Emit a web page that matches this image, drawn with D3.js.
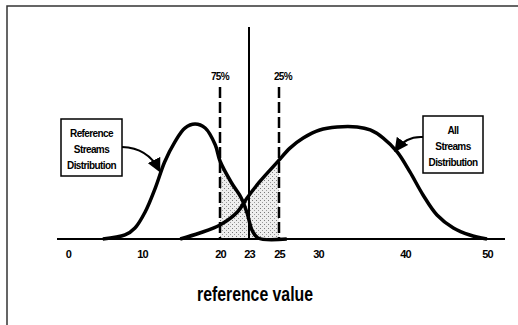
<!DOCTYPE html>
<html>
<head>
<meta charset="utf-8">
<script src="https://cdn.jsdelivr.net/npm/d3@7"></script>
<style>
  body { margin: 0; background: #fff; }
  svg { display: block; }
</style>
</head>
<body>
<div id="chart"></div>
<script>
// tick labels on the x axis
var tickValues = [0, 10, 20, 23, 25, 30, 40, 50];

// reference streams distribution (x = reference value, y = relative density)
var refX = [4.7, 7.7, 9.05, 10.4, 11.7, 12.9, 14.2, 15.5, 16.8, 18.1, 19.4, 20.0, 21.2, 22.2, 22.8, 23.2, 23.6, 26.0];
var refY = [0, 0.035, 0.096, 0.235, 0.443, 0.67, 0.843, 0.965, 1.0, 0.965, 0.817, 0.678, 0.487, 0.357, 0.226, 0.078, 0.009, 0];

// all streams distribution
var allX = [14.9, 17.4, 20.0, 21.8, 22.8, 23.7, 24.9, 26.4, 28.1, 30.2, 32.2, 34.5, 36.0, 37.5, 39.1, 40.6, 42.2, 43.9, 45.9, 47.9, 50.0];
var allY = [0, 0.052, 0.122, 0.235, 0.357, 0.496, 0.67, 0.79, 0.878, 0.948, 0.974, 0.974, 0.948, 0.878, 0.757, 0.583, 0.383, 0.209, 0.096, 0.035, 0];

// percentile cut-offs and the chosen reference value
var cutValues = [20, 25];
var cutLabels = ["75%", "25%"];
var referenceValue = 23;

var refLabel = ["Reference", "Streams", "Distribution"];
var allLabel = ["All", "Streams", "Distribution"];
var axisTitle = "reference value";

var W = 518, H = 325;
var baseY = 239;
var narrow = "'Liberation Sans Narrow', 'Arial Narrow', 'Liberation Sans', Arial, sans-serif";

var svg = d3.select("#chart").append("svg")
  .attr("width", W).attr("height", H);

var defs = svg.append("defs");
var pat = defs.append("pattern")
  .attr("id", "dots").attr("width", 4).attr("height", 4)
  .attr("patternUnits", "userSpaceOnUse");
pat.append("rect").attr("width", 4).attr("height", 4).attr("fill", "#eeeeee");
pat.append("rect").attr("x", 0).attr("y", 0).attr("width", 1).attr("height", 1).attr("fill", "#7a7a7a");
pat.append("rect").attr("x", 2).attr("y", 2).attr("width", 1).attr("height", 1).attr("fill", "#999");

defs.append("marker")
  .attr("id", "arrow").attr("viewBox", "0 0 10 10")
  .attr("refX", 8).attr("refY", 5)
  .attr("markerWidth", 7).attr("markerHeight", 7)
  .attr("orient", "auto")
  .append("path").attr("d", "M0,0 L10,5 L0,10 z").attr("fill", "#000");

// frame
svg.append("rect")
  .attr("x", 7).attr("y", 6).attr("width", W).attr("height", H)
  .attr("fill", "none").attr("stroke", "#333").attr("stroke-width", 1.5);

// scales (the hand-drawn axis is not evenly spaced)
var x = d3.scaleLinear()
  .domain(tickValues)
  .range([68, 142, 220, 249, 279, 318, 405, 487]);
var y = d3.scaleLinear().domain([0, 1]).range([baseY, 124]);

var refData = refX.map(function(d, i) { return [d, refY[i]]; });
var allData = allX.map(function(d, i) { return [d, allY[i]]; });

var line = d3.line()
  .x(function(d) { return x(d[0]); })
  .y(function(d) { return y(d[1]); })
  .curve(d3.curveCatmullRom.alpha(0.5));
var area = d3.area()
  .x(function(d) { return x(d[0]); })
  .y0(baseY)
  .y1(function(d) { return y(d[1]); })
  .curve(d3.curveCatmullRom.alpha(0.5));

// shaded overlap between the two percentile cut-offs
defs.append("clipPath").attr("id", "band")
  .append("rect")
  .attr("x", x(cutValues[0])).attr("y", 0)
  .attr("width", x(cutValues[1]) - x(cutValues[0])).attr("height", baseY);

var shade = svg.append("g").attr("clip-path", "url(#band)");
shade.append("path").attr("d", area(refData)).attr("fill", "url(#dots)");
shade.append("path").attr("d", area(allData)).attr("fill", "url(#dots)");

// dashed percentile lines
svg.selectAll(".cut")
  .data(cutValues)
  .enter().append("line")
    .attr("class", "cut")
    .attr("x1", function(d) { return x(d); })
    .attr("x2", function(d) { return x(d); })
    .attr("y1", 87).attr("y2", baseY)
    .attr("stroke", "#000").attr("stroke-width", 2.5)
    .attr("stroke-dasharray", "11,4");

svg.selectAll(".cutLabel")
  .data(cutValues)
  .enter().append("text")
    .attr("x", function(d, i) { return x(d) + (i == 1 ? 4 : 0); })
    .attr("y", 80)
    .attr("text-anchor", "middle")
    .style("font-family", narrow)
    .style("font-weight", "bold")
    .style("font-size", "10px")
    .style("letter-spacing", "-0.6px")
    .text(function(d, i) { return cutLabels[i]; });

// curves
svg.append("path").attr("d", line(refData))
  .attr("fill", "none").attr("stroke", "#000").attr("stroke-width", 3.5)
  .attr("stroke-linejoin", "round");
svg.append("path").attr("d", line(allData))
  .attr("fill", "none").attr("stroke", "#000").attr("stroke-width", 3.5)
  .attr("stroke-linejoin", "round");

// solid reference value line
svg.append("line")
  .attr("x1", x(referenceValue)).attr("x2", x(referenceValue))
  .attr("y1", 27).attr("y2", baseY)
  .attr("stroke", "#000").attr("stroke-width", 2);

// baseline
svg.append("line")
  .attr("x1", 57).attr("x2", 505)
  .attr("y1", baseY).attr("y2", baseY)
  .attr("stroke", "#000").attr("stroke-width", 2);

// x axis labels
var axis = svg.append("g")
  .attr("transform", "translate(0," + (baseY + 8) + ")")
  .call(d3.axisBottom(x).tickValues(tickValues).tickSize(0).tickPadding(3).tickFormat(d3.format("d")));
axis.select(".domain").remove();
axis.selectAll("text")
  .style("font-family", narrow)
  .style("font-weight", "bold")
  .style("font-size", "11px")
  .style("letter-spacing", "-0.8px")
  .attr("fill", "#000");

// axis title
svg.append("text")
  .attr("x", 255).attr("y", 301)
  .attr("text-anchor", "middle")
  .attr("textLength", 116).attr("lengthAdjust", "spacingAndGlyphs")
  .style("font-family", "'Liberation Sans', Arial, sans-serif")
  .style("font-weight", "bold")
  .style("font-size", "21px")
  .text(axisTitle);

// callout boxes
function callout(lines, bx, by, bw, bh, lineY) {
  var g = svg.append("g");
  g.append("rect")
    .attr("x", bx).attr("y", by).attr("width", bw).attr("height", bh)
    .attr("fill", "#fff").attr("stroke", "#000").attr("stroke-width", 1.5);
  g.selectAll("text")
    .data(lines)
    .enter().append("text")
      .attr("x", bx + bw / 2)
      .attr("y", function(d, i) { return lineY + i * 16; })
      .attr("text-anchor", "middle")
      .style("font-family", narrow)
      .style("font-weight", "bold")
      .style("font-size", "10px")
      .style("letter-spacing", "-0.6px")
      .text(function(d) { return d; });
}
callout(refLabel, 61, 119, 61, 57, 137);
callout(allLabel, 423, 116, 60, 57, 134);

// arrows from the boxes to the curves
svg.append("path")
  .attr("d", "M122,147 Q148,148 159,170")
  .attr("fill", "none").attr("stroke", "#000").attr("stroke-width", 2)
  .attr("marker-end", "url(#arrow)");
svg.append("path")
  .attr("d", "M423,137 Q406,136 396,150")
  .attr("fill", "none").attr("stroke", "#000").attr("stroke-width", 2)
  .attr("marker-end", "url(#arrow)");
</script>
</body>
</html>
